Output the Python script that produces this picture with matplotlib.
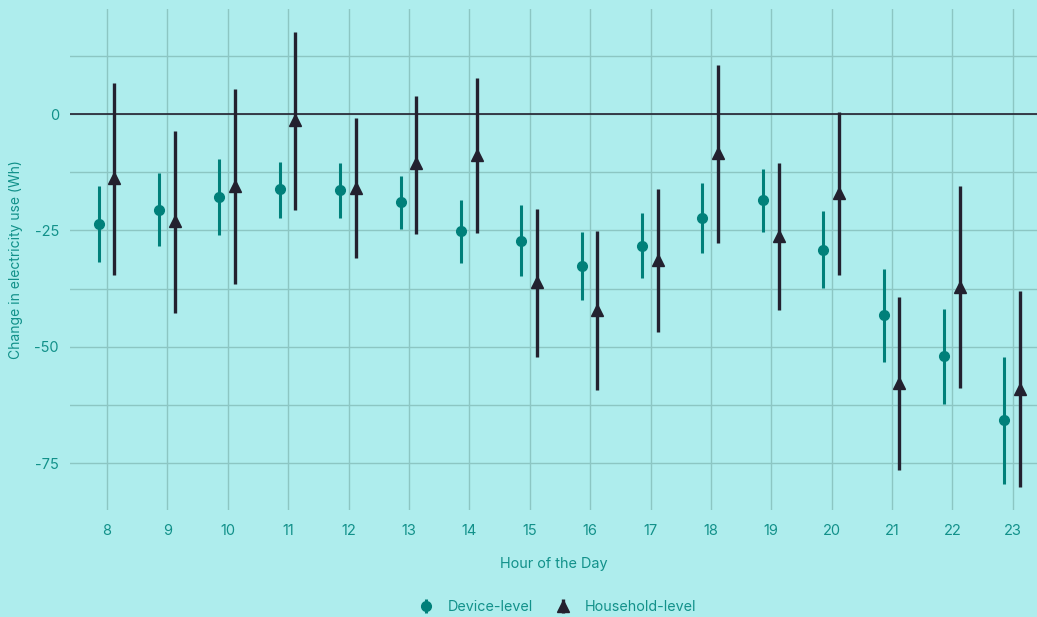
import matplotlib.pyplot as plt
import numpy as np

_BACKGROUND = '#AEEDED'
_GRID = '#8CC6C3'
_TEXT = '#12918A'
_DEVICE = '#00807A'
_HOUSEHOLD = '#23212F'

hours = np.arange(8, 24)

device_est = [-23.6, -20.5, -17.8, -16.2, -16.3, -18.9, -25.1, -27.2,
              -32.7, -28.4, -22.4, -18.5, -29.1, -43.2, -52.0, -65.8]
device_low = [-31.8, -28.3, -25.9, -22.3, -22.4, -24.6, -31.9, -34.9,
              -40.0, -35.3, -29.9, -25.4, -37.3, -53.2, -62.3, -79.5]
device_high = [-15.5, -12.7, -9.7, -10.2, -10.4, -13.3, -18.5, -19.6,
               -25.4, -21.3, -14.8, -11.7, -20.9, -33.2, -41.9, -52.3]

house_est = [-13.8, -23.0, -15.5, -1.3, -15.8, -10.6, -8.7, -36.0,
             -42.1, -31.4, -8.4, -26.1, -16.9, -57.7, -37.1, -59.0]
house_low = [-34.5, -42.8, -36.6, -20.5, -31.0, -25.8, -25.6, -52.2,
             -59.2, -46.8, -27.7, -42.0, -34.6, -76.5, -58.8, -80.2]
house_high = [6.6, -3.6, 5.3, 17.6, -0.9, 3.9, 7.7, -20.4,
              -25.1, -16.1, 10.5, -10.5, 0.4, -39.3, -15.5, -38.0]

plt.rcParams['font.family'] = ['Inter', 'DejaVu Sans']

fig = plt.figure(figsize=(10.37, 6.17), dpi=100, facecolor=_BACKGROUND)
ax = fig.add_axes([0.0675, 0.1734, 0.9325, 0.812])
ax.set_facecolor(_BACKGROUND)

dev = np.array(device_est)
hh = np.array(house_est)
ax.errorbar(hours - 0.14, dev,
            yerr=[dev - np.array(device_low), np.array(device_high) - dev],
            fmt='o', color=_DEVICE, ms=7, elinewidth=2.2, capsize=0,
            label='Device-level', zorder=3)
ax.errorbar(hours + 0.12, hh,
            yerr=[hh - np.array(house_low), np.array(house_high) - hh],
            fmt='^', color=_HOUSEHOLD, ms=9, elinewidth=2.4, capsize=0,
            label='Household-level', zorder=4)

ax.axhline(0, color=_HOUSEHOLD, lw=1.2, zorder=2)

ax.set_xlim(7.387, 23.4)
ax.set_ylim(-85.1, 22.6)
ax.set_xticks(hours)
ax.set_yticks([0, -25, -50, -75])
ax.set_yticklabels(['0', '-25', '-50', '-75'])
ax.set_yticks([12.5, -12.5, -37.5, -62.5], minor=True)
ax.grid(True, which='both', color=_GRID, lw=1.0, zorder=0)
ax.set_axisbelow(True)
ax.tick_params(which='both', length=0, colors=_TEXT, labelsize=10.5)
ax.tick_params(axis='x', pad=10)
ax.tick_params(axis='y', pad=8)
for s in ax.spines.values():
    s.set_visible(False)

ax.set_xlabel('Hour of the Day', color=_TEXT, fontsize=10.4, labelpad=14)
ax.set_ylabel('Change in electricity use (Wh)', color=_TEXT, fontsize=10,
              labelpad=8)

leg = fig.legend(loc='lower center', bbox_to_anchor=(0.537, -0.016), ncol=2,
                 frameon=False, fontsize=10.3, handletextpad=0.9,
                 columnspacing=1.56, handlelength=1.2)
for t in leg.get_texts():
    t.set_color(_TEXT)

fig.savefig('out.png', dpi=100, facecolor=_BACKGROUND)
